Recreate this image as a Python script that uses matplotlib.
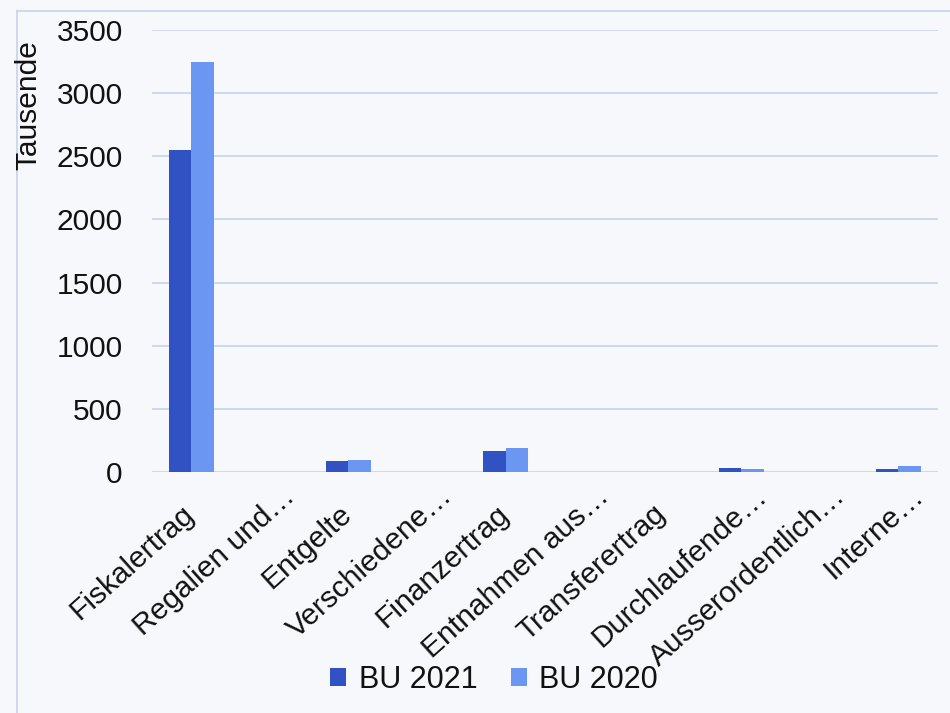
import numpy as np
import matplotlib
matplotlib.use("Agg")
import matplotlib.pyplot as plt
import matplotlib.transforms as mtransforms

plt.rcParams['font.family'] = ['Liberation Sans', 'DejaVu Sans']

# --- data (Tausende) ---
categories = ["Fiskalertrag", "Regalien und…", "Entgelte", "Verschiedene…",
              "Finanzertrag", "Entnahmen aus…", "Transferertrag",
              "Durchlaufende…", "Ausserordentlich…", "Interne…"]
bu_2021 = [2550, 0, 87, 0, 166, 0, 0, 30, 0, 20]
bu_2020 = [3250, 0, 95, 0, 190, 0, 0, 25, 0, 50]
y_ticks = [0, 500, 1000, 1500, 2000, 2500, 3000, 3500]

c_2021 = "#3052c2"
c_2020 = "#6b96f2"
grid_c = "#c9d1ef"
bg = "#f7f8fc"
txt = "#111111"

fig = plt.figure(figsize=(9.5, 7.13), dpi=100, facecolor=bg)
ax = fig.add_axes([0.16, 0.338, 0.827, 0.62])
ax.set_facecolor(bg)

x = np.arange(len(categories))
w = 0.285
ax.bar(x - w / 2, bu_2021, width=w, color=c_2021, label="BU 2021", zorder=3)
ax.bar(x + w / 2, bu_2020, width=w, color=c_2020, label="BU 2020", zorder=3)

ax.set_xlim(-0.5, len(categories) - 0.5)
ax.set_ylim(0, 3500)
ax.set_yticks(y_ticks)
ax.set_xticks(x)
ax.set_xticklabels(categories, rotation=42, ha="right", rotation_mode="anchor")
ax.tick_params(axis="both", length=0, labelsize=21.5, colors=txt)
ax.tick_params(axis="y", pad=21)
ax.tick_params(axis="x", pad=20)
# nudge the category labels; truncated ones sit further up-right in the original
for lab, name in zip(ax.get_xticklabels(), categories):
    dx, dy = (-10, 0) if not name.endswith("…") else (12, 18)
    shift = mtransforms.ScaledTranslation(dx / 100, dy / 100, fig.dpi_scale_trans)
    lab.set_transform(lab.get_transform() + shift)
ax.yaxis.grid(True, color=grid_c, linewidth=1.2, zorder=0)
for s in ax.spines.values():
    s.set_visible(False)

fig.text(0.03, 0.853, "Tausende", rotation=90, fontsize=21.5,
         ha="center", va="center", color=txt)

# chart-area border lines (top and left)
fig.add_artist(plt.Line2D([0.018, 1.0], [0.985, 0.985], color=grid_c, lw=1.2))
fig.add_artist(plt.Line2D([0.018, 0.018], [0.0, 0.985], color=grid_c, lw=1.2))

leg = fig.legend(loc="center", bbox_to_anchor=(0.52, 0.046), ncol=2, frameon=False,
                 fontsize=22, handlelength=0.52, handleheight=0.52, handletextpad=0.4,
                 columnspacing=1.1)
for t in leg.get_texts():
    t.set_color(txt)

fig.savefig("out.png", dpi=100, facecolor=bg)
